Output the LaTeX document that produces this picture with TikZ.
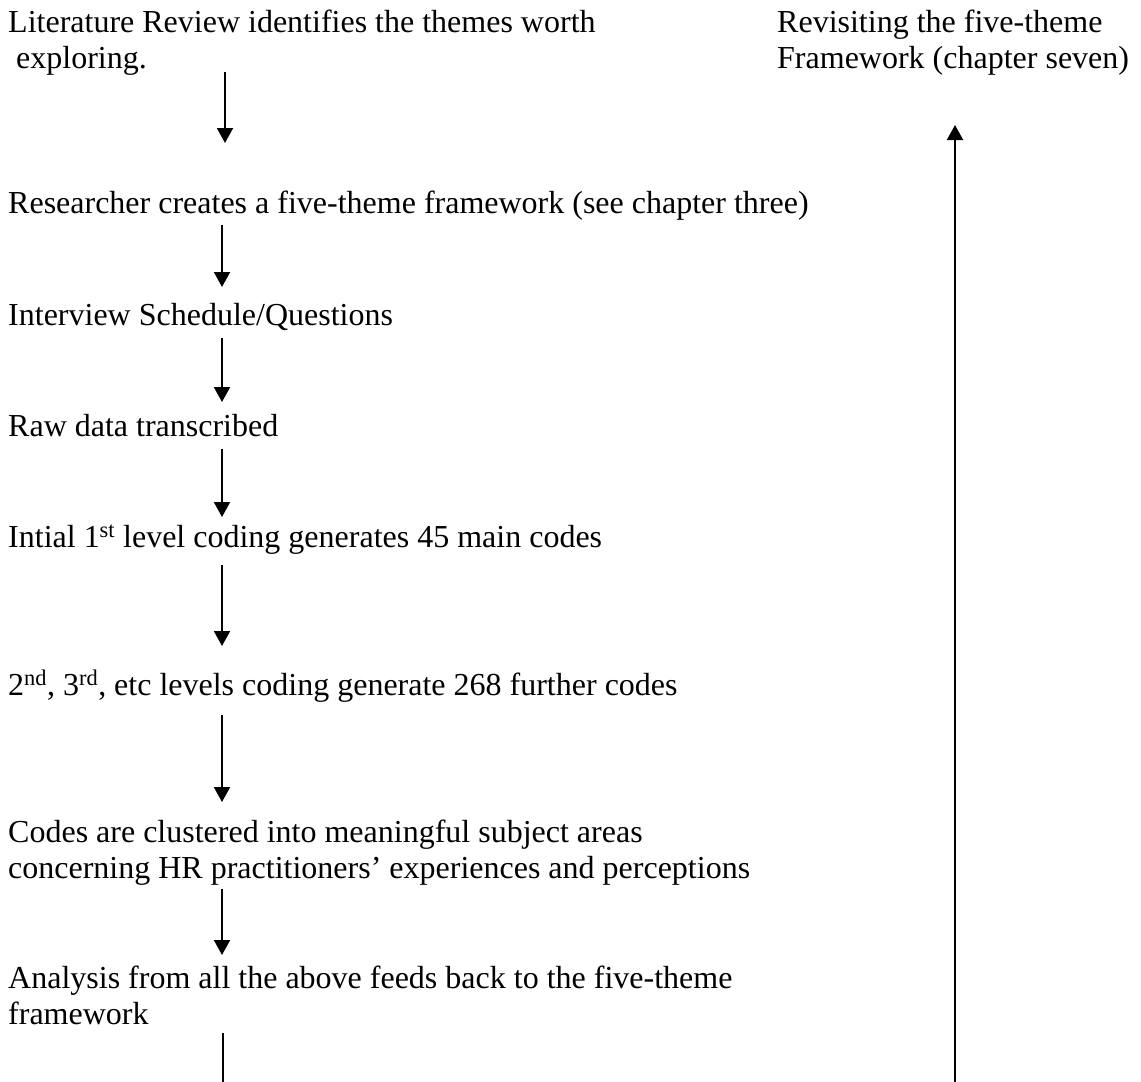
\documentclass[tikz,border=0pt]{standalone}
\usepackage{fontspec}
\setmainfont{Liberation Serif}
\usetikzlibrary{arrows.meta,calc}

\tikzset{
  line/.style={anchor=base west, inner sep=0pt, font=\fontsize{32}{36}\selectfont},
  flow/.style={line width=2pt, -{Triangle[length=15pt,width=16pt]}},
  plain/.style={line width=2pt}
}

\begin{document}
\begin{tikzpicture}[x=1pt, y=-1pt]
  \useasboundingbox (0,0) rectangle (1141,1082);

  % columns carrying the connectors
  \coordinate (colA) at (225,0);
  \coordinate (colB) at (222,0);
  \coordinate (colC) at (223,0);
  \coordinate (colR) at (955,0);
  \coordinate (footL) at (223,1082);
  \coordinate (footR) at (955,1082);

  % steps of the analysis
  \node[line] (lit1) at (8,32)  {Literature Review identifies the themes worth};
  \node[line] (lit2) at (16,68) {exploring.};
  \node[line] (rev1) at (777,32) {Revisiting the five-theme};
  \node[line] (rev2) at (777,68) {Framework (chapter seven)};
  \node[line] (res)  at (8,213) {Researcher creates a five-theme framework (see chapter three)};
  \node[line] (int)  at (8,325) {Interview Schedule/Questions};
  \node[line] (raw)  at (8,436) {Raw data transcribed};
  \node[line] (ini)  at (8,547) {Intial 1\textsuperscript{st} level coding generates 45 main codes};
  \node[line] (lev)  at (8,695) {2\textsuperscript{nd}, 3\textsuperscript{rd}, etc levels coding generate 268 further codes};
  \node[line] (clu1) at (8,842) {Codes are clustered into meaningful subject areas};
  \node[line] (clu2) at (8,878) {concerning HR practitioners’ experiences and perceptions};
  \node[line] (ana1) at (8,988) {Analysis from all the above feeds back to the five-theme};
  \node[line] (ana2) at (8,1024) {framework};

  % downward flow
  \draw[flow] ($(lit2.base -| colA)+(0,4)$) -- ($(res.base -| colA)+(0,-70)$);
  \draw[flow] ($(res.base -| colB)+(0,12)$) -- ($(int.base -| colB)+(0,-38)$);
  \draw[flow] ($(int.base -| colB)+(0,13)$) -- ($(raw.base -| colB)+(0,-34)$);
  \draw[flow] ($(raw.base -| colB)+(0,13)$) -- ($(ini.base -| colB)+(0,-30)$);
  \draw[flow] ($(ini.base -| colB)+(0,18)$) -- ($(lev.base -| colB)+(0,-49)$);
  \draw[flow] ($(lev.base -| colB)+(0,20)$) -- ($(clu1.base -| colB)+(0,-40)$);
  \draw[flow] ($(clu2.base -| colB)+(0,11)$) -- ($(ana1.base -| colB)+(0,-33)$);
  \draw[plain] ($(ana2.base -| colC)+(0,9)$) -- (footL);

  % feedback to the framework
  \draw[flow] (footR) -- ($(rev2.base -| colR)+(0,57)$);
\end{tikzpicture}
\end{document}
